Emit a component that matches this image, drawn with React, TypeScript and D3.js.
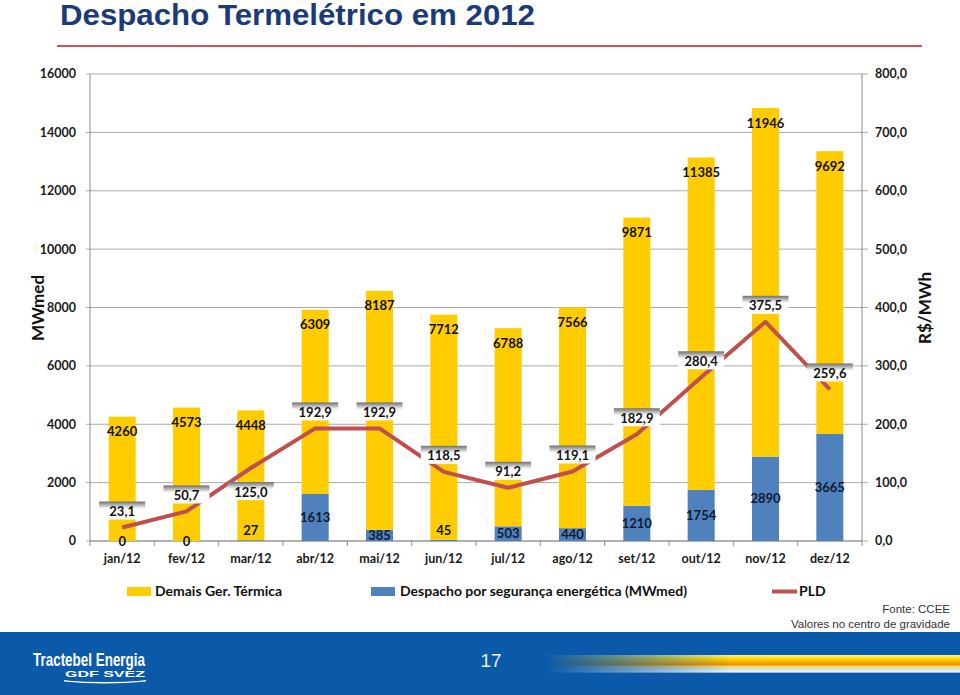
import React from "react";
import * as d3 from "d3";

const months = ["jan/12", "fev/12", "mar/12", "abr/12", "mai/12", "jun/12", "jul/12", "ago/12", "set/12", "out/12", "nov/12", "dez/12"];
const seguranca = [0, 0, 27, 1613, 385, 45, 503, 440, 1210, 1754, 2890, 3665];
const demais = [4260, 4573, 4448, 6309, 8187, 7712, 6788, 7566, 9871, 11385, 11946, 9692];
const pld = [23.1, 50.7, 125.0, 192.9, 192.9, 118.5, 91.2, 119.1, 182.9, 280.4, 375.5, 259.6];
const leftTicks = [0, 2000, 4000, 6000, 8000, 10000, 12000, 14000, 16000];
const rightTicks = [0, 100, 200, 300, 400, 500, 600, 700, 800];
const pldLabelsBelow = ["mar/12"];

const YELLOW = "#FFCC00";
const BLUE = "#4F81BD";
const RED = "#C0504D";
const FONT = "Lato, 'Open Sans', sans-serif";

export default function App() {
  const x = d3.scaleBand<string>().domain(months).range([90, 862]).paddingInner(0.58).paddingOuter(0.29);
  const yL = d3.scaleLinear().domain([0, 16000]).range([541, 74]);
  const yR = d3.scaleLinear().domain([0, 800]).range([541, 74]);
  const bw = x.bandwidth();
  const cx = (m: string) => (x(m) as number) + bw / 2;
  const step = x.step();
  const line = d3
    .line<number>()
    .x((_, i) => cx(months[i]))
    .y((d) => yR(d));
  const fmt = (v: number) => v.toFixed(1).replace(".", ",");

  return (
    <svg width={960} height={695} style={{ position: "absolute", left: 0, top: 0, background: "#fff" }}>
      <defs>
        <linearGradient id="bevel" x1="0" y1="0" x2="0" y2="1">
          <stop offset="0" stopColor="#6f6f6f" />
          <stop offset="0.22" stopColor="#bfbfbf" />
          <stop offset="0.4" stopColor="#ffffff" />
          <stop offset="1" stopColor="#ffffff" />
        </linearGradient>
        <linearGradient id="stripe" x1="0" y1="0" x2="0" y2="1">
          <stop offset="0" stopColor="#f6eeb0" />
          <stop offset="0.18" stopColor="#ffe000" />
          <stop offset="0.42" stopColor="#f7a800" />
          <stop offset="0.52" stopColor="#f08c00" />
          <stop offset="0.66" stopColor="#ffe066" />
          <stop offset="0.8" stopColor="#c5e2f5" />
          <stop offset="0.9" stopColor="#ffffff" />
          <stop offset="1" stopColor="#6fa6dc" />
        </linearGradient>
        <linearGradient id="fade" x1="0" y1="0" x2="1" y2="0">
          <stop offset="0" stopColor="#fff" stopOpacity="0" />
          <stop offset="0.45" stopColor="#fff" stopOpacity="1" />
          <stop offset="1" stopColor="#fff" stopOpacity="1" />
        </linearGradient>
        <mask id="fadeMask" maskUnits="userSpaceOnUse" x="545" y="650" width="415" height="30">
          <rect x={545} y={650} width={415} height={30} fill="url(#fade)" />
        </mask>
      </defs>

      {/* Title */}
      <text x={60} y={25} fontFamily="'Liberation Sans Narrow', 'Arial Narrow', 'Liberation Sans', sans-serif" fontWeight="bold" fontSize={29} fill="#1B3A78" textLength={475} lengthAdjust="spacingAndGlyphs">
        Despacho Termelétrico em 2012
      </text>
      <line x1={57} x2={922} y1={46} y2={46} stroke="#C9545A" strokeWidth={2} />

      {/* Gridlines */}
      {leftTicks.map((t) => (
        <line key={"g" + t} x1={86} x2={868} y1={yL(t)} y2={yL(t)} stroke="#ababab" strokeWidth={1} />
      ))}
      {/* Axes */}
      <line x1={90} x2={90} y1={yL(16000)} y2={yL(0)} stroke="#8c8c8c" />
      <line x1={862} x2={862} y1={yL(16000)} y2={yL(0)} stroke="#8c8c8c" />
      <line x1={90} x2={862} y1={yL(0)} y2={yL(0)} stroke="#8c8c8c" />
      {d3.range(months.length + 1).map((i) => (
        <line key={"xt" + i} x1={90 + i * step} x2={90 + i * step} y1={541} y2={546} stroke="#8c8c8c" />
      ))}

      {/* Left ticks */}
      {leftTicks.map((t) => (
        <text key={"l" + t} x={76} y={yL(t)} dy="0.35em" textAnchor="end" fontFamily={FONT} fontWeight="bold" fontSize={12.5} fill="#1a1a1a">
          {t}
        </text>
      ))}
      {rightTicks.map((t) => (
        <text key={"r" + t} x={875} y={yR(t)} dy="0.35em" textAnchor="start" fontFamily={FONT} fontWeight="bold" fontSize={12.5} fill="#1a1a1a">
          {fmt(t)}
        </text>
      ))}
      {months.map((m) => (
        <text key={"m" + m} x={cx(m)} y={559} dy="0.35em" textAnchor="middle" fontFamily={FONT} fontWeight="bold" fontSize={12.5} fill="#1a1a1a">
          {m}
        </text>
      ))}

      {/* Axis titles */}
      <text transform={`translate(44,308) rotate(-90)`} textAnchor="middle" fontFamily={FONT} fontWeight="bold" fontSize={17} fill="#111">
        MWmed
      </text>
      <text transform={`translate(931,308) rotate(-90)`} textAnchor="middle" fontFamily={FONT} fontWeight="bold" fontSize={17} fill="#111">
        R$/MWh
      </text>

      {/* Bars */}
      {months.map((m, i) => {
        const b = seguranca[i];
        const d = demais[i];
        return (
          <g key={"b" + m}>
            <rect x={x(m)} y={yL(b)} width={bw} height={yL(0) - yL(b)} fill={BLUE} />
            <rect x={x(m)} y={yL(b + d)} width={bw} height={yL(b) - yL(b + d)} fill={YELLOW} />
          </g>
        );
      })}

      {/* Bar labels */}
      {months.map((m, i) => {
        const b = seguranca[i];
        const d = demais[i];
        const yb = b > 0 && b < 100 ? yL(0) - 11 : (yL(0) + yL(b)) / 2;
        return (
          <g key={"bl" + m} fontFamily={FONT} fontWeight="bold" fontSize={13} textAnchor="middle">
            <text x={cx(m)} y={yL(b + d) + 15} dy="0.35em" fill="#111">
              {d}
            </text>
            <text x={cx(m)} y={yb} dy="0.35em" fill={b > 300 ? "#111a33" : "#111"}>
              {b}
            </text>
          </g>
        );
      })}

      {/* PLD line */}
      <path d={line(pld) || ""} fill="none" stroke={RED} strokeWidth={4} strokeLinejoin="round" />

      {/* PLD labels */}
      {months.map((m, i) => {
        const py = yR(pld[i]);
        const ty = pldLabelsBelow.includes(m) ? py + 24 : py - 16;
        return (
          <g key={"pl" + m}>
            <rect x={cx(m) - 23} y={ty - 10} width={46} height={18} fill="url(#bevel)" />
            <text x={cx(m)} y={ty} dy="0.35em" textAnchor="middle" fontFamily={FONT} fontWeight="bold" fontSize={13} fill="#111">
              {fmt(pld[i])}
            </text>
          </g>
        );
      })}

      {/* Legend */}
      <g fontFamily={FONT} fontWeight="bold" fontSize={14} fill="#111">
        <rect x={127} y={587} width={24} height={9} fill={YELLOW} />
        <text x={155} y={591} dy="0.35em">Demais Ger. Térmica</text>
        <rect x={371} y={587} width={24} height={9} fill={BLUE} />
        <text x={400} y={591} dy="0.35em">Despacho por segurança energética (MWmed)</text>
        <line x1={772} x2={797} y1={591.5} y2={591.5} stroke={RED} strokeWidth={4} />
        <text x={799} y={591} dy="0.35em">PLD</text>
      </g>

      {/* Source */}
      <g fontFamily="'Liberation Sans', Arial, sans-serif" fontSize={11.5} fill="#333" textAnchor="end">
        <text x={950} y={613}>Fonte: CCEE</text>
        <text x={950} y={628}>Valores no centro de gravidade</text>
      </g>

      {/* Footer */}
      <rect x={0} y={632} width={960} height={63} fill="#0B5AAA" />
      <rect x={545} y={655} width={415} height={18} fill="url(#stripe)" mask="url(#fadeMask)" />
      <text x={33} y={666} fontFamily="'Liberation Sans Narrow', 'Liberation Sans', sans-serif" fontSize={19} fontWeight="bold" fill="#fff" textLength={112} lengthAdjust="spacingAndGlyphs">
        Tractebel Energia
      </text>
      <text x={65} y={677} fontFamily="'Liberation Sans', sans-serif" fontSize={9} fontWeight="bold" fill="#fff" textLength={80} lengthAdjust="spacingAndGlyphs">
        GDF SVEZ
      </text>
      <path d="M64,681 Q105,685 146,681 Q105,684 64,681 Z" fill="#fff" stroke="#fff" strokeWidth={1.2} />
      <text x={491} y={667} textAnchor="middle" fontFamily="'Liberation Sans Narrow', 'Liberation Sans', sans-serif" fontSize={19} fill="#e6eef8">
        17
      </text>
    </svg>
  );
}
